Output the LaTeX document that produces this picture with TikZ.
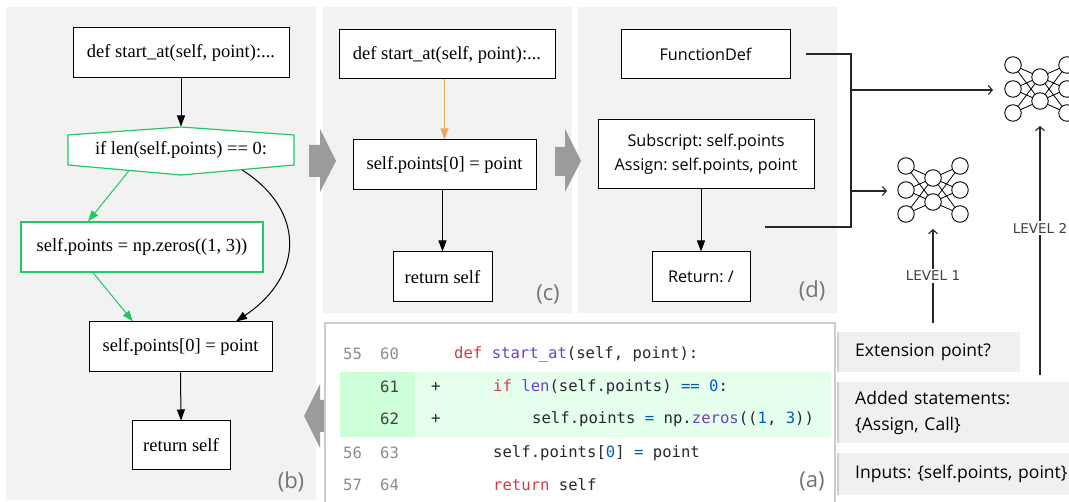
\documentclass[tikz,border=0pt]{standalone}
\usepackage{fontspec}
\setmainfont{Liberation Serif}
\newfontfamily\uifont{Open Sans}
\newfontfamily\codefont{DejaVu Sans Mono}
\newfontfamily\levelfont{DejaVu Sans}
\usetikzlibrary{arrows.meta,calc}

\definecolor{panelgray}{HTML}{F2F2F2}
\definecolor{notegray}{HTML}{F0F0F0}
\definecolor{blockgray}{HTML}{9B9B9B}
\definecolor{newgreen}{HTML}{22C864}
\definecolor{ctrlorange}{HTML}{E9A860}
\definecolor{gutgreen}{HTML}{CDFFD8}
\definecolor{addgreen}{HTML}{E6FFEC}
\definecolor{kw}{HTML}{D73A49}
\definecolor{fn}{HTML}{6F42C1}
\definecolor{num}{HTML}{005CC5}
\definecolor{txt}{HTML}{24292E}

\begin{document}
\frenchspacing
\begin{tikzpicture}[
    x=1pt, y=-1pt,
    stmt/.style={rectangle, draw=black, fill=white, line width=1pt, inner sep=0pt, font=\fontsize{18.5}{22}\selectfont},
    newstmt/.style={stmt, draw=newgreen, line width=1.2pt},
    ast/.style={rectangle, draw=black, fill=white, line width=1pt, inner sep=0pt, align=center, font=\uifont\fontsize{16.2}{24}\selectfont},
    note/.style={rectangle, fill=notegray, anchor=west, inner xsep=18pt, align=left, font=\uifont\fontsize{17.5}{26}\selectfont},
    panel/.style={fill=panelgray},
    tag/.style={text=black!55, font=\uifont\fontsize{22}{26}\selectfont},
    flow/.style={line width=1pt, -{Triangle[length=11pt,width=8pt]}},
    neuron/.style={circle, draw=black, line width=0.9pt, minimum size=16.5pt, inner sep=0pt},
    wire/.style={line width=0.8pt},
    feed/.style={draw=black!85, line width=1.1pt, -{Straight Barb[length=4pt,width=9pt]}},
    lvl/.style={fill=white, inner sep=2pt, text=black!75, font=\levelfont\fontsize{13.5}{16}\selectfont},
    code/.style={anchor=west, inner sep=0pt, text=txt, font=\codefont\fontsize{15.6}{18}\selectfont},
    lnum/.style={code, text=black!45},
    block/.style={fill=blockgray}
]
\clip (0,0) rectangle (1069,502);
% Panels
\fill[panel] (6,7) rectangle (316,500);
\fill[panel] (323,7) rectangle (572,313);
\fill[panel] (578,7) rectangle (837,313);

% (b) control flow graph
\node[stmt, minimum width=216pt, minimum height=50pt] (def_b) at (181,53) {def start\_at(self, point):...};
\filldraw[fill=white, draw=newgreen, line width=1.2pt] (68,135) -- (181,127) -- (294,135) -- (294,165) -- (181,175) -- (68,165) -- cycle;
\node[stmt, draw=none, fill=none, minimum width=226pt, minimum height=30pt] (cond_b) at (181,150) {if len(self.points) == 0:};
\node[newstmt, minimum width=242pt, minimum height=50pt] (init_b) at (142,247) {self.points = np.zeros((1, 3))};
\node[stmt, minimum width=183pt, minimum height=50pt] (assign_b) at (180.5,347) {self.points[0] = point};
\node[stmt, minimum width=98pt, minimum height=49pt] (ret_b) at (181,445.5) {return self};
\node[tag] at (291,482) {(b)};
\draw[flow, draw=newgreen, fill=newgreen] ($(cond_b.south west)!0.54!([yshift=-10pt]cond_b.south)$) -- ([xshift=-54pt]init_b.north);
\draw[flow, draw=newgreen, fill=newgreen] ([xshift=-49pt]init_b.south) -- ([xshift=-47.5pt]assign_b.north);
\draw[flow] (def_b.south) -- ([yshift=8pt]cond_b.north);
\draw[flow] ($(cond_b.south east)!0.46!([yshift=-10pt]cond_b.south)$) .. controls (305,210) and (305,275) .. ([xshift=55.5pt]assign_b.north);
\draw[flow] (assign_b.south) -- (ret_b.north);

% (c) sliced graph
\node[stmt, minimum width=216pt, minimum height=49pt] (def_c) at (447,54.5) {def start\_at(self, point):...};
\node[stmt, minimum width=183pt, minimum height=50pt] (assign_c) at (444.5,165) {self.points[0] = point};
\node[stmt, minimum width=99pt, minimum height=50pt] (ret_c) at (442.5,277) {return self};
\node[tag] at (548,294) {(c)};
\draw[flow, draw=ctrlorange, fill=ctrlorange] (def_c.south -| assign_c.north) -- (assign_c.north);
\draw[flow] (assign_c.south -| ret_c.north) -- (ret_c.north);

% (d) AST summary
\node[ast, minimum width=169pt, minimum height=49pt] (funcdef) at (705.5,54.5) {FunctionDef};
\node[ast, minimum width=216pt, minimum height=69pt] (stmts) at (706,154.5) {Subscript: self.points\\Assign: self.points, point};
\node[ast, minimum width=98pt, minimum height=50pt] (ret_d) at (701,277) {Return: /};
\node[tag] at (812,291) {(d)};
\draw[flow] (stmts.south -| ret_d.north) -- (ret_d.north);

% Bracket to the networks
\coordinate (fd_out) at (806,54);
\coordinate (st_out) at (765,227);
\coordinate (brk_top) at (851,54);
\coordinate (brk_bot) at (851,227);
\coordinate (nn2_in) at (993,90);
\coordinate (nn1_in) at (887,191);
\draw[line width=1.1pt, draw=black!85] (fd_out) -- (brk_top) -- (brk_bot) -- (st_out);
\draw[feed] (brk_top |- nn2_in) -- (nn2_in);
\draw[feed] (brk_top |- nn1_in) -- (nn1_in);

% Networks
\foreach \nn/\cx/\cy in {a/933/190, b/1040/89} {
  \foreach \i in {1,2,3} {
    \node[neuron] (\nn-l\i) at ({\cx-27},{\cy+24*\i-48}) {};
    \node[neuron] (\nn-r\i) at ({\cx+27},{\cy+24*\i-48}) {};
  }
  \foreach \j in {1,2}
    \node[neuron] (\nn-m\j) at (\cx,{\cy+24*\j-36}) {};
  \foreach \i in {1,2,3}
    \foreach \j in {1,2} {
      \draw[wire] (\nn-l\i) -- (\nn-m\j);
      \draw[wire] (\nn-m\j) -- (\nn-r\i);
    }
}

% Level inputs
\coordinate (lv1_src) at (933,323);
\coordinate (lv1_dst) at (933,229);
\coordinate (lv2_src) at (1040,375);
\coordinate (lv2_dst) at (1040,126);
\draw[feed] (lv1_src) -- node[lvl] {LEVEL 1} (lv1_dst);
\draw[feed] (lv2_src) -- node[lvl, pos=0.59] {LEVEL 2} (lv2_dst);

% Notes
\node[note, minimum width=183pt, minimum height=40pt, text width=147pt] (ext) at (837,352) {Extension point?};
\node[note, minimum width=260pt, minimum height=61pt, text width=224pt] (added) at (837,412.5) {Added statements:\\\{Assign, Call\}};
\node[note, minimum width=260pt, minimum height=42pt, text width=224pt] (inputs) at (837,474) {Inputs: \{self.points, point\}};
\foreach \y/\h in {352/20, 412.5/30.5, 474/21}
  \draw[black!18, line width=2.5pt] (838,{\y-\h}) -- (838,{\y+\h});

% Block arrows between stages
\fill[block] (309,145) -- (320,145) -- (320,129) -- (336,161) -- (320,192) -- (320,177) -- (309,177) -- cycle;
\fill[block] (555,147) -- (565,147) -- (565,129) -- (581,161) -- (565,192) -- (565,176) -- (555,176) -- cycle;
\fill[block] (331,400) -- (320,400) -- (320,384) -- (304,416) -- (320,448) -- (320,432) -- (331,432) -- cycle;

% (a) code diff
\fill[white] (325,323) rectangle (835,510);
\fill[addgreen] (340,372) rectangle (831,437);
\fill[gutgreen] (340,372) rectangle (415,437);
\draw[black!20, line width=1.5pt] (325,510) -- (325,323) -- (835,323) -- (835,510);
\node[lnum] (o55) at (343,354) {55};
\node[lnum] (n60) at (380,354) {60};
\node[lnum, text=black!75] (n61) at (380,387) {61};
\node[lnum, text=black!75] (n62) at (380,419) {62};
\node[lnum] (o56) at (343,453) {56};
\node[lnum] (n63) at (380,453) {63};
\node[lnum] (o57) at (343,485) {57};
\node[lnum] (n64) at (380,485) {64};
\node[code] (p61) at (431,387) {+};
\node[code] (p62) at (431,419) {+};
\node[code] (c60) at (454,354) {\textcolor{kw}{def} \textcolor{fn}{start\_at}(self, point):};
\node[code] (c61) at (493,387) {\textcolor{kw}{if} \textcolor{fn}{len}(self.points) \textcolor{num}{==} \textcolor{num}{0}:};
\node[code] (c62) at (532,419) {self.points \textcolor{num}{=} np.\textcolor{fn}{zeros}((\textcolor{num}{1}, \textcolor{num}{3}))};
\node[code] (c63) at (493,453) {self.points[\textcolor{num}{0}] \textcolor{num}{=} point};
\node[code] (c64) at (493,485) {\textcolor{kw}{return} self};
\node[tag] at (812,481) {(a)};
\end{tikzpicture}
\end{document}
